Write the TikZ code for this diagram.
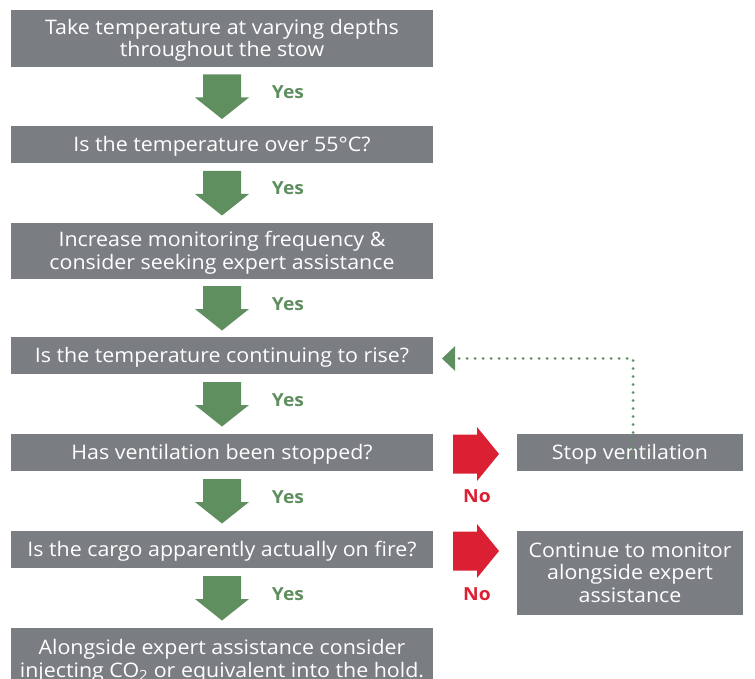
\documentclass[tikz,border=0pt]{standalone}
\usepackage{fontspec}
\setmainfont[FakeStretch=1.07]{Open Sans}
\usetikzlibrary{calc,arrows.meta}
\definecolor{boxgray}{HTML}{7A7D82}
\definecolor{arrgreen}{HTML}{5F8E5F}
\definecolor{arrred}{HTML}{DA2032}
\tikzset{
  box/.style={fill=boxgray, text=white, inner sep=0pt, outer sep=0pt, align=center,
    text depth=1.5pt, font=\fontsize{20}{22.5}\selectfont},
  yeslbl/.style={text=arrgreen, font=\fontsize{18}{20}\selectfont\bfseries, anchor=base, inner sep=0pt},
  nolbl/.style={text=arrred, font=\fontsize{18}{20}\selectfont\bfseries, inner sep=0pt},
  downarr/.pic={\fill[arrgreen] (-19,-22) -- (19,-22) -- (19,1) -- (27,1) -- (0,22.5) -- (-27,1) -- (-19,1) -- cycle;},
  rightarr/.pic={\fill[arrred] (-23,-19.5) -- (1,-19.5) -- (1,-27) -- (23,0) -- (1,27) -- (1,19.5) -- (-23,19.5) -- cycle;},
}
\begin{document}
\begin{tikzpicture}[x=1pt,y=-1pt]
\useasboundingbox (0,0) rectangle (755,679);
% left column boxes
\node[box, minimum width=422pt, minimum height=57pt] (q1) at (222,38.5) {Take temperature at varying depths\\throughout the stow};
\node[box, minimum width=422pt, minimum height=37pt] (q2) at (222,144.5) {Is the temperature over 55°C?};
\node[box, minimum width=422pt, minimum height=56pt] (q3) at (222,251) {Increase monitoring frequency \&\\consider seeking expert assistance};
\node[box, minimum width=422pt, minimum height=37pt] (q4) at (222,355.5) {Is the temperature continuing to rise?};
\node[box, minimum width=422pt, minimum height=37pt] (q5) at (222,452.5) {Has ventilation been stopped?};
\node[box, minimum width=422pt, minimum height=37pt] (q6) at (222,549.5) {Is the cargo apparently actually on fire?};
\node[box, minimum width=422pt, minimum height=62pt] (q7) at (222,659) {Alongside expert assistance consider\\injecting CO\textsubscript{2} or equivalent into the hold.};
% right boxes
\node[box, minimum width=226pt, minimum height=37pt] (stop) at (630,452.5) {Stop ventilation};
\node[box, minimum width=226pt, minimum height=84pt] (cont) at (630,573) {Continue to monitor\\alongside expert\\assistance};
% green down arrows with labels
\foreach \a/\b in {q1/q2,q2/q3,q3/q4,q4/q5,q5/q6,q6/q7}{
  \coordinate (m\a) at ($(\a.south)!0.5!(\b.north)$);
  \pic at (m\a) {downarr};
  \node[yeslbl] (y\a) at ($(m\a)+(66,2)$) {Yes};
}
% red right arrows with labels
\coordinate (r5) at ($(q5.east)!0.5!(stop.west)+(1,1.5)$);
\pic at (r5) {rightarr};
\node[nolbl] (n5) at ($(r5)+(1,42)$) {No};
\coordinate (r6) at ($(q6.east)!0.5!(cont.west|-q6.east)+(1,1.5)$);
\pic at (r6) {rightarr};
\node[nolbl] (n6) at ($(r6)+(1,43)$) {No};
% dotted feedback
\draw[arrgreen, line width=3pt, line cap=round, dash pattern=on 0pt off 8pt,
  -{Triangle[length=13pt,width=24pt]}]
  ([xshift=3pt,yshift=-4pt]stop.center) |- ([xshift=9pt,yshift=-3pt]q4.east);
\end{tikzpicture}
\end{document}
